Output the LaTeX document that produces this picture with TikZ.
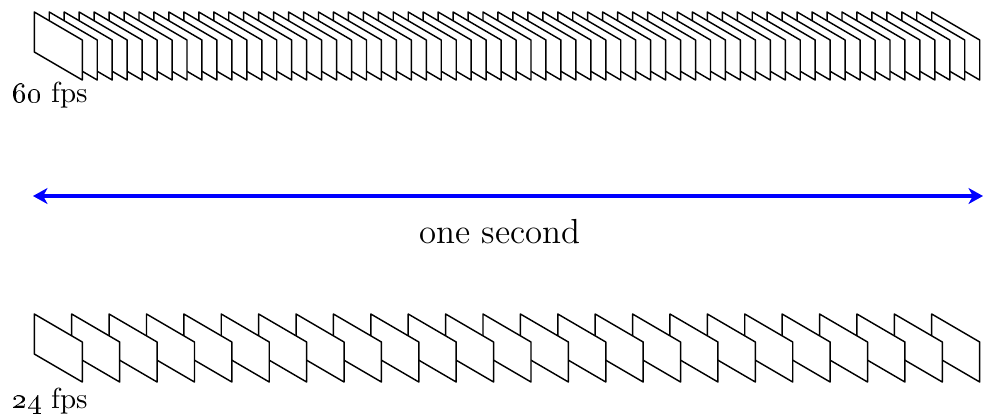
\documentclass[tikz,border=0pt]{standalone}
\usetikzlibrary{positioning,arrows.meta}

\begin{document}
\begin{tikzpicture}[x=0.3448pt,y=-0.3448pt,
      frame/.style={draw=black,fill=white,line width=0.5pt,line join=round},
      lbl/.style={inner sep=0pt,anchor=base west},
      captxt/.style={inner sep=0pt,anchor=base,font=\large},
      span/.style={{Stealth[length=5pt,width=5.5pt,inset=1.5pt]}-{Stealth[length=5pt,width=5.5pt,inset=1.5pt]},draw=blue,very thick}]
    \useasboundingbox (0,0) rectangle (984,417);

    % 60 fps: one second = 897.4 units, later frames behind earlier ones
    \foreach \i in {60,59,...,0}
      \draw[frame] ({34.3+14.957*\i},12) -- ++(0,40) -- ++(48,28) -- ++(0,-40) -- cycle;
    \node[lbl] (fast) at (12,102) {\oldstylenums{60} fps};

    % the span of one second
    \coordinate (t0) at (33,196);
    \coordinate (t1) at (983,196);
    \draw[span] (t0) -- (t1);
    \node[captxt] (sec) at (500,243) {one second};

    % 24 fps
    \foreach \i in {24,23,...,0}
      \draw[frame] ({34.3+37.392*\i},314) -- ++(0,40) -- ++(48,28) -- ++(0,-40) -- cycle;
    \node[lbl] (slow) at (12,408) {\oldstylenums{24} fps};
  \end{tikzpicture}
\end{document}
